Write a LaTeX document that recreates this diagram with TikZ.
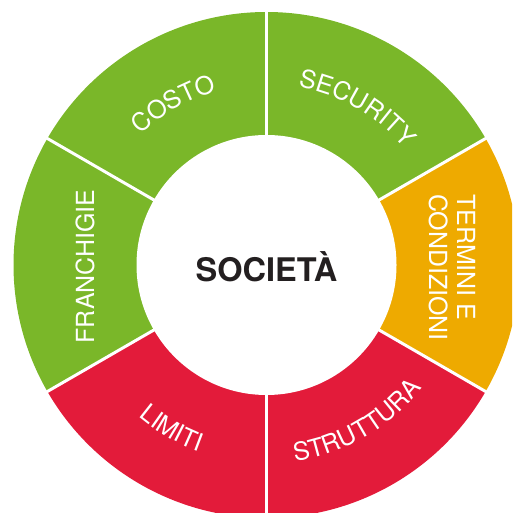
\documentclass[tikz,border=0pt]{standalone}
\usepackage{fontspec}
\setmainfont{TeX Gyre Heros}
\usepackage{tikz}
\usetikzlibrary{decorations.text}

\definecolor{ringgreen}{RGB}{122,183,41}
\definecolor{ringorange}{RGB}{238,170,0}
\definecolor{ringred}{RGB}{227,27,58}
\definecolor{centretext}{RGB}{35,31,32}
\newcommand{\ringfont}{\fontsize{14.2}{15.9}\selectfont}

\begin{document}
\begin{tikzpicture}[
    sep/.style={white, line width=1.7pt},
    ringlabel/.style={decorate, decoration={text along path, text align=center, text color=white, text={|\ringfont|#1}}},
    flatlabel/.style={text=white, font=\ringfont, inner sep=0pt}]

    \clip (-5.33,-4.96) rectangle (4.91,5.30);

    % the six sectors
    \fill[ringgreen] (0,0) -- (30:5.06) arc[start angle=30, end angle=90, radius=5.06] -- cycle;
    \fill[ringgreen] (0,0) -- (90:5.06) arc[start angle=90, end angle=150, radius=5.06] -- cycle;
    \fill[ringgreen] (0,0) -- (150:5.06) arc[start angle=150, end angle=210, radius=5.06] -- cycle;
    \fill[ringred] (0,0) -- (210:5.06) arc[start angle=210, end angle=270, radius=5.06] -- cycle;
    \fill[ringred] (0,0) -- (270:5.06) arc[start angle=270, end angle=330, radius=5.06] -- cycle;
    \fill[ringorange] (0,0) -- (-30:5.06) arc[start angle=-30, end angle=30, radius=5.06] -- cycle;

    \draw[sep] (90:2.5) -- (90:5.2);
    \draw[sep] (30:2.5) -- (30:5.2);
    \draw[sep] (-30:2.5) -- (-30:5.2);
    \draw[sep] (-90:2.5) -- (-90:5.2);
    \draw[sep] (150:2.5) -- (150:5.2);
    \draw[sep] (210:2.5) -- (210:5.2);

    \fill[white] (0,0) circle (2.6);

    \node[font=\fontsize{18.5}{21}\selectfont\bfseries, text=centretext] (societa) at (0,-0.03) {SOCIETÀ};

    % labels round the ring
    \path[ringlabel={COSTO}] (150:3.62) arc[start angle=150, end angle=90, radius=3.62];
    \path[ringlabel={SECURITY}] (90:3.62) arc[start angle=90, end angle=30, radius=3.62];
    \path[ringlabel={STRUTTURA}] (-90:3.97) arc[start angle=-90, end angle=-30, radius=3.97];
    \path[ringlabel={LIMITI}] (210:3.97) arc[start angle=210, end angle=270, radius=3.97];

    \node[flatlabel, rotate=90] (franchigie) at (-3.63,-0.03) {FRANCHIGIE};
    \node[flatlabel, rotate=-90, align=left] (termini) at (3.71,-0.05) {TERMINI E\\CONDIZIONI};
\end{tikzpicture}
\end{document}
